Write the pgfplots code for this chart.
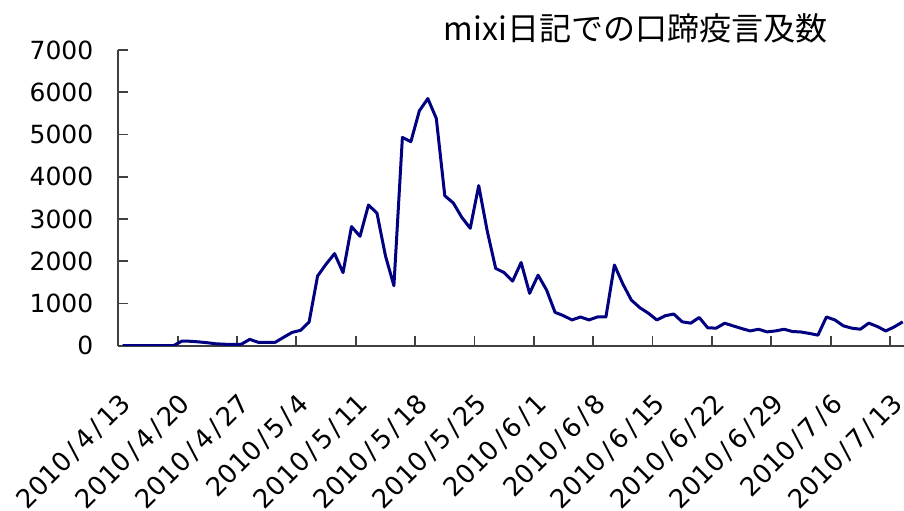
\documentclass[border=0pt]{standalone}
\usepackage{pgfplots}
\pgfplotsset{compat=1.18}
\usepackage{fontspec}
\setmainfont{DejaVu Sans}
\newfontfamily\cjk{Noto Sans CJK JP}
\newcommand{\dsl}{\makebox[0.62em]{/}}
\definecolor{navyline}{RGB}{0,0,128}
\definecolor{axisgray}{RGB}{64,64,64}
\pgfplotstableread{
d v
0 0
1 0
2 0
3 0
4 0
5 0
6 0
7 110
8 105
9 90
10 70
11 45
12 35
13 30
14 35
15 150
16 80
17 80
18 80
19 200
20 315
21 365
22 560
23 1650
24 1930
25 2180
26 1730
27 2820
28 2590
29 3330
30 3140
31 2130
32 1420
33 4930
34 4830
35 5560
36 5850
37 5380
38 3550
39 3380
40 3040
41 2780
42 3790
43 2720
44 1830
45 1730
46 1530
47 1970
48 1240
49 1670
50 1320
51 790
52 710
53 610
54 680
55 610
56 680
57 680
58 1910
59 1460
60 1080
61 900
62 770
63 610
64 710
65 750
66 565
67 534
68 668
69 425
70 415
71 533
72 469
73 407
74 350
75 390
76 327
77 350
78 390
79 336
80 325
81 290
82 250
83 680
84 610
85 470
86 415
87 390
88 535
89 455
90 350
91 445
92 565
}\mixidata
\begin{document}
\begin{tikzpicture}
\useasboundingbox (0,0) rectangle (452pt,255pt);
\begin{axis}[
  at={(59.15pt,82.15pt)}, anchor=south west,
  scale only axis, width=392.85pt, height=147.85pt,
  xmin=-0.5, xmax=92.15, ymin=0, ymax=7000,
  axis lines*=left,
  axis line style={axisgray, line width=0.9pt},
  tick align=inside,
  major tick length=5pt,
  tick style={axisgray, line width=0.9pt},
  ytick={0,1000,...,7000},
  scaled y ticks=false,
  /pgf/number format/1000 sep={},
  /pgf/number format/assume math mode=true,
  xtick={-0.5,6.5,...,90.5},
  xticklabels={},
  extra x ticks={0,7,...,91},
  extra x tick labels={2010\dsl 4\dsl 13,2010\dsl 4\dsl 20,2010\dsl 4\dsl 27,2010\dsl 5\dsl 4,2010\dsl 5\dsl 11,2010\dsl 5\dsl 18,2010\dsl 5\dsl 25,2010\dsl 6\dsl 1,2010\dsl 6\dsl 8,2010\dsl 6\dsl 15,2010\dsl 6\dsl 22,2010\dsl 6\dsl 29,2010\dsl 7\dsl 6,2010\dsl 7\dsl 13},
  extra x tick style={major tick length=0pt},
  x tick label style={xshift=-2pt, yshift=-18pt, rotate=45, anchor=north east, font=\fontsize{13}{13}\selectfont},
  y tick label style={font=\fontsize{12.5}{12.5}\selectfont, xshift=-9pt},
]
\addplot[navyline, line width=1.5pt, line join=round, mark=none] table[x=d, y=v] {\mixidata};
\end{axis}
\node[font=\cjk\fontsize{16}{16}\selectfont, anchor=center] at (317.75pt,241pt) {mixi日記での口蹄疫言及数};
\end{tikzpicture}
\end{document}
